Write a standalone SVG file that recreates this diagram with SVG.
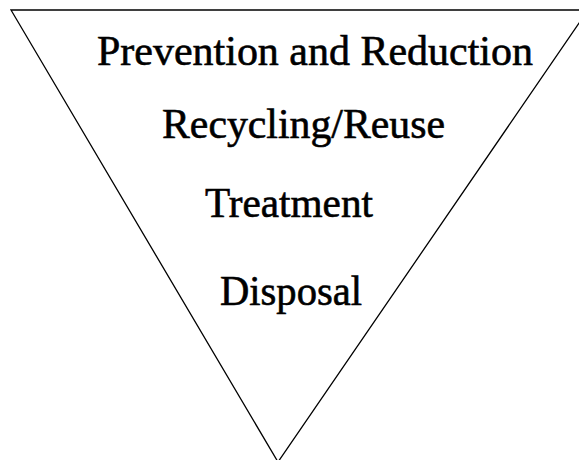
<svg xmlns="http://www.w3.org/2000/svg" width="579" height="460" viewBox="0 0 579 460">
<style>
.lbl{font-family:"Liberation Serif","Times New Roman",serif;font-size:42px;fill:#000;stroke:#000;stroke-width:0.6}
.tri{fill:#fff;stroke:#000;stroke-width:1.3}
</style>
<rect width="579" height="460" fill="#fff"/>
<g id="pyramid">
<polygon class="tri" points="11,10 588,10 278,462"/>
</g>
<g id="connectors"/>
<g id="n1"><text class="lbl" x="97" y="65" textLength="436" lengthAdjust="spacingAndGlyphs">Prevention and Reduction</text></g>
<g id="n2"><text class="lbl" x="162" y="138" textLength="283" lengthAdjust="spacingAndGlyphs">Recycling/Reuse</text></g>
<g id="n3"><text class="lbl" x="205" y="217" textLength="168" lengthAdjust="spacingAndGlyphs">Treatment</text></g>
<g id="n4"><text class="lbl" x="220" y="305" textLength="142" lengthAdjust="spacingAndGlyphs">Disposal</text></g>
</svg>
